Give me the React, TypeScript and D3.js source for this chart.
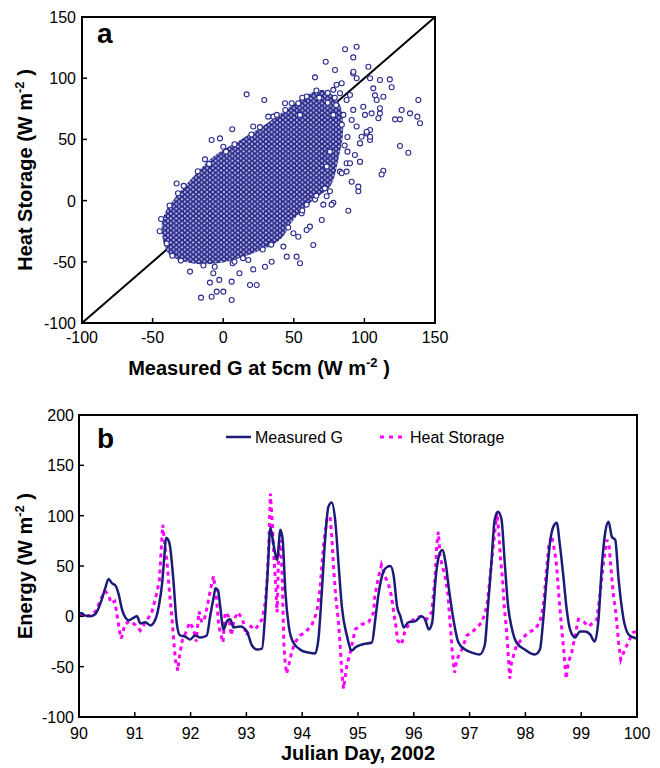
import React from 'react';
import * as d3 from 'd3';

const width = 660;
const height = 768;
const font = 'Arial, "Liberation Sans", sans-serif';

// panel a: ticks, dense cloud outline and the scattered points around it
const scatterTicks = [-100, -50, 0, 50, 100, 150];

const cloudOutline: [number, number][] = [
  [-43.6, -21], [-38.9, -43], [-23.5, -51], [-2.3, -51], [21.3, -43], [40.2, -32],
  [49.6, -16], [63.8, 0.5], [76, 12], [82, 36], [85, 58], [82, 80], [72, 90],
  [61.5, 87.7], [47.3, 76.7], [30.8, 63], [11.9, 49.5], [-7, 36], [-21.2, 19.5],
  [-35.3, 0.5], [-41.2, -10],
];

const scatterPoints: [number, number][] = [
  [86.3, 123.6], [94.5, 125.7], [92.1, 117], [72.6, 113.5], [79.2, 106.7], [102.8, 109.4],
  [65, 100.7], [92, 104], [111, 98.5], [118, 99], [119.3, 92.6], [106.3, 91.7],
  [107.5, 86], [113.4, 84.9], [138.2, 82.2], [126.4, 74], [132.3, 71.3], [137.5, 68.6],
  [139.4, 63.2], [121.7, 66.4], [125.2, 66.4], [111, 71.3], [104, 57.7], [125.2, 44.6],
  [131.1, 39.1], [113.4, 24.4], [112.2, 21.3], [88.6, -8.3], [95.7, 7.6], [78, -1.7],
  [69.8, -15.8], [63.8, -36.3], [54.4, -51.2], [52, -45.8], [45, -45.8], [42.6, -37.6],
  [53.2, -29.5], [61.4, -21.3], [34.3, -50], [29.6, -54], [21.3, -56.2], [23.7, -68.9],
  [19, -68.9], [11.5, -59.4], [6, -66.2], [6, -81.2], [0.1, -74.4], [-4.6, -74.4],
  [-8.2, -78.5], [-15.7, -79.3], [-9.4, -67], [-2.8, -64.8], [-7, -59.4], [-23.5, -58],
  [17.8, -48.5], [6.7, -51.2], [-33, 14], [-12.9, 33.7], [-8.2, 49.5], [-2.3, 50.8],
  [0.1, 44], [6.4, 58.3], [16.6, 86.8], [29.1, 82.2], [21.3, 60.5], [31.9, 68.6],
  [35.5, 68.6], [43.8, 79.5], [48.5, 79.5], [53.2, 79.5], [59.1, 85], [54.4, 70],
  [75.6, 40], [73.3, 27.8], [82.7, 23.7], [87.4, 30.5], [96.9, 31.8], [96.9, 46.7],
  [101.6, 54.9], [104, 49.5], [75.6, 7.6], [73.3, 3.5], [76.8, -3.3], [70.9, -3.3],
  [65, 0.8], [59.1, -3.3], [59.1, -24], [49.7, -26.7], [55.6, -10.4],
  [92.2, 105.3], [94.5, 99.9], [104, 99.9], [99.2, 76.7], [100.4, 70], [105.1, 71.3],
  [108.7, 82.2], [111, 75.4], [109.9, 67.3], [101.6, 56.3], [104, 52.2], [96.9, 46.8],
  [93.3, 37.3], [89.8, 30.5], [87.4, 23.7], [83.9, 22.4], [96.9, 31.8], [95.7, 11.4],
  [91, 15.4], [89.8, 86.3], [87.4, 82.2], [92.1, 74.1], [91, 65.9], [94.5, 60.5],
  [98, 52.2], [85.1, 70], [82.7, 87.7], [80.3, 94.6], [78, 90.5], [83.9, 95.9],
  [86, 45], [88, 52], [84, 62], [78, 70], [74, 80], [80, 78], [68, 84], [88, 40],
  [-45, -25], [-44, -15], [-40, -35], [-36, -45], [-30, -49], [-14, -53], [-6, -54],
  [8, -50], [14, -47], [28, -40], [34, -36], [46, -22], [56, -8], [66, 4], [72, 10],
  [-38, -4], [-32, 6], [-28, 12], [-18, 24], [-10, 30], [2, 40], [8, 46], [20, 54],
  [26, 60], [38, 70], [44, 74], [56, 84], [66, 90], [74, 88], [79, 84],
];

// panel b: measured G and heat storage, [julian day, W m-2]
const energyTicks = [-100, -50, 0, 50, 100, 150, 200];
const dayTicks = [90, 91, 92, 93, 94, 95, 96, 97, 98, 99, 100];

const measuredG: [number, number][] = [
  [90, 3], [90.05, 3], [90.1, 1], [90.2, 0], [90.29, 2], [90.35, 8], [90.41, 17], [90.47, 28],
  [90.53, 37], [90.59, 33], [90.66, 30], [90.71, 22], [90.77, 7], [90.83, -1], [90.89, -4],
  [90.96, -2], [91.04, 0], [91.1, -7], [91.19, -6], [91.28, -9], [91.37, -3], [91.43, 10],
  [91.49, 33], [91.53, 60], [91.56, 78], [91.6, 76], [91.63, 70], [91.69, 37], [91.75, -6],
  [91.81, -19], [91.9, -20], [91.99, -23], [92.08, -19], [92.17, -21], [92.29, -19], [92.35, 0],
  [92.41, 18], [92.45, 28], [92.49, 26], [92.53, 10], [92.59, -13], [92.65, -5], [92.71, -3],
  [92.77, -11], [92.89, -10], [93.01, -15], [93.1, -29], [93.19, -33], [93.28, -32], [93.33, -3],
  [93.38, 43], [93.43, 88], [93.49, 70], [93.55, 56], [93.61, 86], [93.65, 76], [93.7, 23],
  [93.76, -10], [93.84, -26], [93.99, -34], [94.11, -36], [94.23, -37], [94.29, -23], [94.35, 23],
  [94.41, 76], [94.47, 109], [94.53, 113], [94.59, 96], [94.65, 53], [94.71, 10], [94.8, -19],
  [94.89, -34], [94.95, -31], [95.07, -28], [95.25, -26], [95.31, -3], [95.37, 23], [95.46, 45],
  [95.52, 49], [95.58, 50], [95.64, 40], [95.7, 10], [95.76, 0], [95.82, -11], [95.9, -6],
  [96.02, -5], [96.14, 0], [96.2, -3], [96.27, -13], [96.33, -6], [96.39, 37], [96.45, 60],
  [96.51, 66], [96.57, 53], [96.63, 27], [96.71, -3], [96.8, -26], [96.92, -33], [97.04, -36],
  [97.18, -38], [97.27, -29], [97.33, 10], [97.39, 53], [97.45, 96], [97.51, 104], [97.57, 97],
  [97.63, 53], [97.69, 10], [97.75, -10], [97.84, -26], [97.99, -33], [98.17, -38], [98.26, -33],
  [98.32, -3], [98.38, 37], [98.44, 73], [98.5, 89], [98.56, 93], [98.62, 70], [98.68, 40],
  [98.74, 7], [98.8, -13], [98.89, -21], [98.98, -15], [99.07, -15], [99.16, -18], [99.24, -25],
  [99.31, -3], [99.37, 50], [99.43, 83], [99.49, 94], [99.55, 79], [99.61, 76], [99.67, 37],
  [99.76, -3], [99.85, -18], [99.94, -21], [100, -22],
];

const heatStorage: [number, number][] = [
  [90, 2], [90.1, 0], [90.2, 1], [90.3, 5], [90.4, 18], [90.47, 25], [90.52, 22], [90.58, 13],
  [90.64, 15], [90.68, 2], [90.73, -16], [90.76, -22], [90.82, -8], [90.9, -5], [91, -8],
  [91.1, -14], [91.2, -5], [91.3, 3], [91.38, 20], [91.44, 35], [91.5, 91], [91.54, 70],
  [91.58, 52], [91.62, 25], [91.66, 2], [91.7, -26], [91.73, -44], [91.77, -54], [91.8, -40],
  [91.85, -24], [91.93, -14], [91.98, -6], [92.05, -12], [92.1, -25], [92.15, 5], [92.2, -6],
  [92.25, -2], [92.3, 10], [92.36, 28], [92.41, 40], [92.46, 20], [92.5, -6], [92.53, -16],
  [92.58, -26], [92.62, 4], [92.68, 0], [92.73, -19], [92.78, -3], [92.85, 4], [92.93, -3],
  [93, -19], [93.08, -10], [93.16, -13], [93.28, -3], [93.34, 14], [93.37, 36], [93.4, 69],
  [93.43, 122], [93.46, 96], [93.5, 53], [93.53, 27], [93.55, 4], [93.58, 66], [93.61, 76],
  [93.64, 43], [93.67, -26], [93.69, -43], [93.72, -57], [93.77, -46], [93.81, -36], [93.87, -26],
  [93.96, -19], [94.05, -16], [94.17, -9], [94.26, 4], [94.32, 27], [94.38, 69], [94.44, 96],
  [94.5, 99], [94.53, 79], [94.56, 50], [94.6, 20], [94.65, -6], [94.68, -29], [94.71, -56],
  [94.74, -72], [94.8, -49], [94.86, -36], [94.95, -13], [95.07, -8], [95.19, -6], [95.28, 4],
  [95.3, 20], [95.36, 37], [95.42, 51], [95.48, 40], [95.54, 33], [95.6, 20], [95.65, 0],
  [95.68, -10], [95.71, -24], [95.78, -28], [95.84, -15], [95.93, -6], [96.05, -1], [96.14, 0],
  [96.23, -3], [96.32, 4], [96.38, 37], [96.41, 70], [96.44, 84], [96.47, 60], [96.51, 50],
  [96.56, 40], [96.61, 23], [96.65, -6], [96.69, -36], [96.73, -56], [96.77, -43], [96.86, -33],
  [96.95, -19], [97.04, -16], [97.13, -11], [97.22, -6], [97.31, 10], [97.37, 40], [97.43, 73],
  [97.49, 103], [97.52, 86], [97.55, 60], [97.59, 37], [97.62, 10], [97.66, -13], [97.69, -36],
  [97.72, -62], [97.75, -46], [97.84, -29], [97.93, -23], [98.05, -16], [98.17, -13], [98.26, -6],
  [98.32, 10], [98.35, 27], [98.38, 47], [98.42, 70], [98.47, 80], [98.52, 66], [98.56, 50],
  [98.6, 20], [98.64, -6], [98.68, -29], [98.71, -49], [98.73, -62], [98.77, -46], [98.83, -36],
  [98.89, -19], [98.95, -3], [99.04, -5], [99.13, -10], [99.22, -6], [99.28, -3], [99.34, 23],
  [99.4, 53], [99.46, 76], [99.5, 70], [99.55, 37], [99.58, 20], [99.62, 4], [99.67, -26],
  [99.71, -43], [99.76, -36], [99.84, -26], [99.93, -16], [100, -15],
];

const navy = '#1c1c78';
const pointBlue = '#2a2a8e';
const magenta = '#ff00ff';

// panel geometry
const a = { left: 82, right: 435, top: 17, bottom: 323 };
const b = { left: 79, right: 637, top: 415, bottom: 717 };

const xA = d3.scaleLinear().domain([-100, 150]).range([a.left, a.right]);
const yA = d3.scaleLinear().domain([-100, 150]).range([a.bottom, a.top]);
const xB = d3.scaleLinear().domain([90, 100]).range([b.left, b.right]);
const yB = d3.scaleLinear().domain([-100, 200]).range([b.bottom, b.top]);

const cloudPath = d3
  .line<[number, number]>()
  .x(d => xA(d[0]))
  .y(d => yA(d[1]))
  .curve(d3.curveCatmullRomClosed)(cloudOutline);

// separate generators: .curve() mutates, so don't share one
const dashedLine = d3
  .line<[number, number]>()
  .x(d => xB(d[0]))
  .y(d => yB(d[1]));

const smoothLine = d3
  .line<[number, number]>()
  .x(d => xB(d[0]))
  .y(d => yB(d[1]))
  .curve(d3.curveMonotoneX);

const Sup = ({ text }: { text: string }) => (
  <>
    <tspan dy={-8} fontSize={13}>{text}</tspan>
    <tspan dy={8}> )</tspan>
  </>
);

const tile = { w: 5.6, h: 4.8 };

const App = () => {
  return (
    <svg
      width={width}
      height={height}
      style={{ position: 'absolute', left: 0, top: 0, background: '#fff' }}
      fontFamily={font}
    >
      <defs>
        <pattern id="cloud" width={tile.w} height={tile.h} patternUnits="userSpaceOnUse">
          <rect width={tile.w} height={tile.h} fill="#fff" />
          {[[0, 0], [tile.w, 0], [0, tile.h], [tile.w, tile.h], [tile.w / 2, tile.h / 2]].map(([cx, cy], i) => (
            <circle key={i} cx={cx} cy={cy} r={2.3} fill="none" stroke={pointBlue} strokeWidth={1.1} />
          ))}
        </pattern>
      </defs>

      {/* ---------- panel a ---------- */}
      <line
        x1={xA(-100)} y1={yA(-100)} x2={xA(150)} y2={yA(150)}
        stroke="#000" strokeWidth={2}
      />
      <path d={cloudPath || ''} fill="url(#cloud)" />
      {scatterPoints.map((p, i) => (
        <circle
          key={i}
          cx={xA(p[0])}
          cy={yA(p[1])}
          r={2.5}
          fill="#fff"
          stroke={pointBlue}
          strokeWidth={1.1}
        />
      ))}
      <rect
        x={a.left} y={a.top} width={a.right - a.left} height={a.bottom - a.top}
        fill="none" stroke="#000" strokeWidth={2}
      />
      {scatterTicks.map(t => (
        <g key={'ax' + t}>
          <line x1={xA(t)} x2={xA(t)} y1={a.bottom} y2={a.bottom - 5} stroke="#000" strokeWidth={1.5} />
          <text x={xA(t)} y={343} textAnchor="middle" fontSize={16}>{t}</text>
          <line x1={a.left} x2={a.left + 5} y1={yA(t)} y2={yA(t)} stroke="#000" strokeWidth={1.5} />
          <text x={76} y={yA(t) + 6} textAnchor="end" fontSize={16}>{t}</text>
        </g>
      ))}
      <text x={97} y={43} fontSize={28} fontWeight="bold">a</text>
      <text x={259} y={375} textAnchor="middle" fontSize={20} fontWeight="bold">
        Measured G at 5cm (W m<Sup text="-2" />
      </text>
      <text
        transform={`translate(32, ${(a.top + a.bottom) / 2}) rotate(-90)`}
        textAnchor="middle" fontSize={20} fontWeight="bold"
      >
        Heat Storage (W m<Sup text="-2" />
      </text>

      {/* ---------- panel b ---------- */}
      <path d={dashedLine(heatStorage) || ''} fill="none" stroke={magenta} strokeWidth={3} strokeDasharray="4 4" />
      <path d={smoothLine(measuredG) || ''} fill="none" stroke={navy} strokeWidth={2.5} strokeLinejoin="round" />
      <rect
        x={b.left} y={b.top} width={b.right - b.left} height={b.bottom - b.top}
        fill="none" stroke="#000" strokeWidth={2}
      />
      {energyTicks.map(t => (
        <g key={'by' + t}>
          <line x1={b.left} x2={b.left + 5} y1={yB(t)} y2={yB(t)} stroke="#000" strokeWidth={1.5} />
          <text x={74} y={yB(t) + 6} textAnchor="end" fontSize={16}>{t}</text>
        </g>
      ))}
      {dayTicks.map(t => (
        <g key={'bx' + t}>
          <line x1={xB(t)} x2={xB(t)} y1={b.bottom} y2={b.bottom - 5} stroke="#000" strokeWidth={1.5} />
          <text x={xB(t)} y={739} textAnchor="middle" fontSize={16}>{t}</text>
        </g>
      ))}
      <text x={97} y={448} fontSize={28} fontWeight="bold">b</text>
      <line x1={226} x2={251} y1={437} y2={437} stroke={navy} strokeWidth={2.5} />
      <text x={255} y={443} fontSize={16}>Measured G</text>
      <line x1={380} x2={402} y1={437} y2={437} stroke={magenta} strokeWidth={3} strokeDasharray="4 5" />
      <text x={410} y={443} fontSize={16}>Heat Storage</text>
      <text x={358} y={760} textAnchor="middle" fontSize={20} fontWeight="bold">Julian Day, 2002</text>
      <text
        transform={`translate(32, ${(b.top + b.bottom) / 2}) rotate(-90)`}
        textAnchor="middle" fontSize={20} fontWeight="bold"
      >
        Energy (W m<Sup text="-2" />
      </text>
    </svg>
  );
};

export default App;
